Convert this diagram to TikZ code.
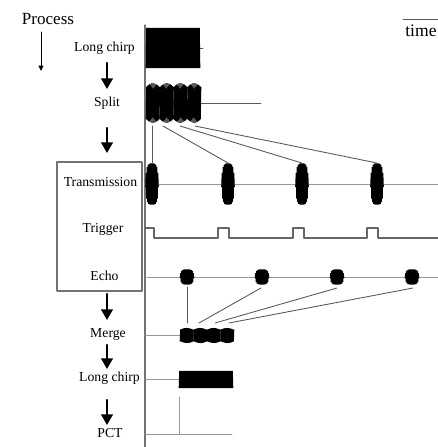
\documentclass[tikz,border=0pt]{standalone}
\usepackage{fontspec}
\setmainfont{Liberation Serif}
\usetikzlibrary{arrows.meta}

\tikzset{
  lbl/.style={font=\fontsize{7.8}{9}\selectfont},
  sig/.style={line width=0.35pt, line cap=butt, line join=bevel},
  axisln/.style={draw=black!55, line width=0.6pt},
  baseln/.style={draw=black!40, line width=0.5pt},
  conn/.style={draw=black!65, line width=0.5pt},
  flow/.style={-{Triangle[width=6.5pt,length=6pt]}, line width=1.4pt},
}

\begin{document}
\begin{tikzpicture}[line cap=round,line join=round,x=0.02cm,y=-0.02cm]
		\useasboundingbox (0,0) rectangle (438,447);
		% labels
		\node[font=\fontsize{9.7}{11}\selectfont] (process) at (48,19) {Process};
		\node[lbl] (lchirp) at (104.5,48) {Long chirp};
		\node[lbl] (split) at (107,103) {Split};
		\node[lbl] (trans) at (100.5,182) {Transmission};
		\node[lbl] (trig) at (103,229) {Trigger};
		\node[lbl] (echo) at (104.5,276) {Echo};
		\node[lbl] (merge) at (108,334) {Merge};
		\node[lbl] (lchirpb) at (109.5,378) {Long chirp};
		\node[lbl] (pct) at (110,433) {PCT};
		\node[font=\fontsize{10}{12}\selectfont, anchor=west, inner sep=0pt] (time) at (405,31) {time};
		\draw[conn] (403,19) -- (438,19);
		% process arrows
		\coordinate (p0) at (41,32); \coordinate (p1) at (41,71);
		\draw[-{Triangle[width=2.8pt,length=3pt]}, line width=0.5pt] (p0) -- (p1);
		\coordinate (a0) at (107,63);  \coordinate (a1) at (107,89);
		\coordinate (b0) at (107,128); \coordinate (b1) at (107,153);
		\coordinate (c0) at (107,294); \coordinate (c1) at (107,320);
		\coordinate (d0) at (107,345); \coordinate (d1) at (107,369);
		\coordinate (f0) at (107,400); \coordinate (f1) at (107,425);
		\foreach \q in {a,b,c,d,f}
			\draw[flow] (\q0) -- (\q1);
		\draw[draw=black!55, line width=0.6pt] (57,162) rectangle (142,291);
		% time axis
		\draw[axisln] (145,25) -- (145,447);
		% long chirp
		\draw[conn] (146,48) -- (203,48);
		\draw[sig] plot[domain=0:108, samples=109, variable=\i] ({146+0.5*\i}, {48+20*cos(180*mod(\i,2))});
		% split
		\draw[conn] (146,103) -- (261,103);
		\foreach \k in {0,...,3}
			\draw[sig] plot[domain=0:27, samples=28, variable=\i] ({146+13.75*\k+\i*13.75/27}, {103+20*(0.8+0.2*cos(90*(\i/13.5-1)))*cos(180*mod(\i,2))});
		% transmission
		\draw[baseln] (145,184) -- (438,184);
		\foreach \cx in {152,228,302,377}
			\draw[sig] plot[domain=0:26, samples=27, variable=\i] ({\cx-6.5+0.5*\i}, {184+20.5*sqrt(1.02-(\i/13-1)*(\i/13-1)*(\i/13-1)*(\i/13-1))*cos(180*mod(\i,2))});
		% trigger
		\draw[draw=black!60, line width=0.6pt] (145,228) -- (154,228) -- (154,238)
			\foreach \p in {218,293,367}{ -- (\p,238) -- (\p,228) -- ({\p+11},228) -- ({\p+11},238)} -- (438,238);
		% echo
		\draw[baseln] (147,277) -- (438,277);
		\foreach \cx in {187,262,337,412}
			\draw[sig] plot[domain=0:28, samples=29, variable=\i] ({\cx-7+0.5*\i}, {277+7.5*sqrt(1.02-(\i/14-1)*(\i/14-1)*(\i/14-1)*(\i/14-1))*cos(180*mod(\i,2))});
		% merge
		\draw[baseln] (145,335) -- (180,335);
		\foreach \k in {0,...,3}
			\draw[sig] plot[domain=0:27, samples=28, variable=\i] ({180+13.5*\k+0.5*\i}, {335.5+7.5*(0.78+0.22*cos(90*(\i/13.5-1)))*cos(180*mod(\i,2))});
		% long chirp again
		\draw[baseln] (145,379.5) -- (179,379.5);
		\draw[sig] plot[domain=0:108, samples=109, variable=\i] ({179+0.5*\i}, {379.5+8.5*cos(180*mod(\i,2))});
		% pct
		\draw[baseln] (145,434) -- (232,434);
		\draw[baseln] (179,397) -- (179,434);
		% split -> transmission
		\coordinate (s1) at (152,126); \coordinate (t1) at (152,163);
		\coordinate (s2) at (163,126); \coordinate (t2) at (228,163);
		\coordinate (s3) at (180,126); \coordinate (t3) at (302,163);
		\coordinate (s4) at (195,126); \coordinate (t4) at (377,163);
		% echo -> merge
		\coordinate (e1) at (187,287); \coordinate (m1) at (187,323);
		\coordinate (e2) at (261,288); \coordinate (m2) at (199,323);
		\coordinate (e3) at (337,288); \coordinate (m3) at (215,323);
		\coordinate (e4) at (413,288); \coordinate (m4) at (229,323);
		\foreach \k in {1,...,4}{
			\draw[conn] (s\k) -- (t\k);
			\draw[conn] (e\k) -- (m\k);
		}
	\end{tikzpicture}
\end{document}
